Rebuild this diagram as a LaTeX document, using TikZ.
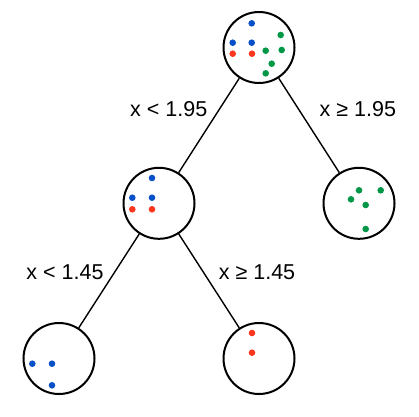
\documentclass[tikz,border=0pt]{standalone}
\usepackage{fontspec}
\setmainfont{Liberation Sans}
\definecolor{dblue}{RGB}{8,80,200}
\definecolor{dred}{RGB}{250,55,30}
\definecolor{dgreen}{RGB}{0,152,70}
\begin{document}
\begin{tikzpicture}[x=1pt,y=-1pt,
  treenode/.style={circle,draw=black,line width=2pt,minimum size=71pt,inner sep=0pt},
  edge/.style={line width=1.4pt},
  lab/.style={anchor=base,inner sep=0pt,font=\fontsize{21.5}{24}\selectfont},
  bdot/.style={fill=dblue},
  rdot/.style={fill=dred},
  gdot/.style={fill=dgreen}]
\useasboundingbox (0,0) rectangle (419,416);
\node[treenode] (root) at (259,47.5) {};
\node[treenode] (mid) at (159,203.3) {};
\node[treenode] (right) at (359,203.3) {};
\node[treenode] (ll) at (59,358.5) {};
\node[treenode] (lr) at (259,358.5) {};
\draw[edge] (root) -- (mid);
\draw[edge] (root) -- (right);
\draw[edge] (mid) -- (ll);
\draw[edge] (mid) -- (lr);
\node[lab] (l1) at (168.7,116.7) {x < 1.95};
\node[lab] (l2) at (357.8,116.7) {x ≥ 1.95};
\node[lab] (l3) at (65,279) {x < 1.45};
\node[lab] (l4) at (257,279) {x ≥ 1.45};
% root dots
\foreach \p in {(251.7,23.3),(232.7,42.7),(251.7,42.7)} \fill[bdot] \p circle (3.3);
\foreach \p in {(232.7,53.7),(252,53.7)} \fill[rdot] \p circle (3.3);
\foreach \p in {(280.7,35),(281.7,50),(265.7,50.7),(271.7,63.7),(265.7,73.3)} \fill[gdot] \p circle (3.3);
% mid dots
\foreach \p in {(152,178),(132.3,197.7),(152,197.7)} \fill[bdot] \p circle (3.3);
\foreach \p in {(132.3,209.3),(152,209.3)} \fill[rdot] \p circle (3.3);
% right dots
\foreach \p in {(359,190.3),(380.7,190.3),(351,199.3),(365.7,205),(365.7,229)} \fill[gdot] \p circle (3.3);
% bottom-left dots
\foreach \p in {(32.3,363.7),(52,363.7),(52,385.3)} \fill[bdot] \p circle (3.3);
% bottom-right dots
\foreach \p in {(252,333),(252,352.7)} \fill[rdot] \p circle (3.3);
\end{tikzpicture}
\end{document}
